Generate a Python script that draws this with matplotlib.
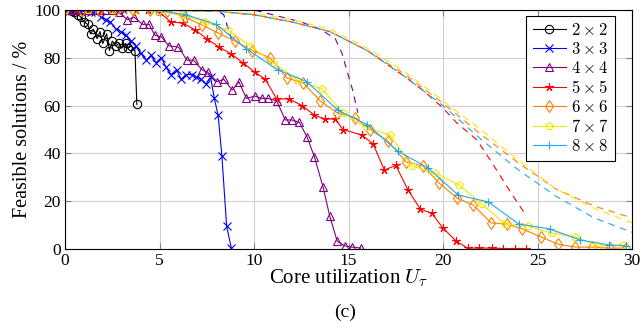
import numpy as np
import matplotlib.pyplot as plt

plt.rcParams['font.family'] = ['Liberation Serif', 'DejaVu Serif']
plt.rcParams['mathtext.fontset'] = 'cm'

# 2x2
x2 = [0, 0.17, 0.35, 0.5, 0.68, 0.85, 1.0, 1.2, 1.35, 1.5, 1.7, 1.85, 2.0, 2.2, 2.35, 2.5, 2.7, 2.85, 3.0, 3.2, 3.35, 3.5, 3.7, 3.8]
y2 = [100, 100, 99.5, 99, 98, 97, 95, 94, 90, 92, 88, 91, 86, 90, 83, 87, 85, 86, 84, 86, 84, 85, 83, 60.5]
# 3x3
x3 = [0, 0.27, 0.55, 0.8, 1.1, 1.35, 1.6, 1.9, 2.15, 2.4, 2.7, 2.95, 3.2, 3.5, 3.75, 4.0, 4.3, 4.55, 4.8, 5.1,
      5.35, 5.6, 5.9, 6.15, 6.4, 6.7, 6.95, 7.2, 7.45, 7.7, 7.9, 8.1, 8.3, 8.55, 8.8]
y3 = [100, 100, 100, 99.5, 99.5, 99, 99, 97, 96, 95, 92, 91, 89.5, 87, 85, 82, 79, 81, 78, 80,
      76, 73, 75, 71, 73, 73, 72, 71, 69, 72, 63, 56, 39, 9.6, 0.4]
# 4x4
x4 = [0, 0.4, 0.85, 1.25, 1.7, 2.1, 2.5, 2.85, 3.3, 3.65, 4.1, 4.45, 4.75, 5.1, 5.5, 6.0, 6.45, 6.8, 7.25, 7.55,
      8.05, 8.4, 8.85, 9.2, 9.6, 10.05, 10.4, 10.75, 11.2, 11.65, 12.0, 12.4, 12.8, 13.2, 13.65, 14.0, 14.4, 14.8, 15.2, 15.65]
y4 = [100, 100, 100, 100, 100, 100, 100, 99, 96, 97, 94, 94, 89.5, 88.7, 85, 84.5, 79, 79, 75, 74,
      70, 71, 66.5, 70, 63, 64, 63, 63, 62, 54, 54, 53, 47, 38.5, 26, 14, 3.3, 1.3, 0.8, 0.4]
# 5x5
x5 = [0, 0.6, 1.25, 1.9, 2.5, 3.1, 3.75, 4.4, 5.0, 5.6, 6.25, 6.9, 7.5, 8.15, 8.8, 9.4, 10.05, 10.6, 11.2, 11.85,
      12.55, 13.2, 13.75, 14.3, 14.7, 15.7, 16.3, 16.9, 17.5, 18.15, 18.8, 19.4, 20.0, 20.7, 21.3, 21.9, 22.6, 23.2, 23.8, 24.4]
y5 = [100, 100, 100, 100, 100, 100, 100, 100, 99, 95, 94.5, 91.6, 88, 84.5, 81.6, 78, 74, 71, 62.8, 62.8,
      60, 56, 54.4, 54.4, 50, 47.7, 44, 33, 35, 24.7, 16.7, 15, 8.8, 3.3, 0.4, 0.4, 0.4, 0.2, 0.2, 0.2]
# 6x6
x6 = [0, 0.9, 1.8, 2.7, 3.6, 4.5, 5.4, 6.35, 7.25, 8.1, 9.0, 9.9, 10.85, 11.75, 12.6, 13.5, 14.4, 15.35, 16.15, 17.1,
      18.05, 18.95, 19.8, 20.75, 21.6, 22.55, 23.4, 24.2, 25.2, 26.1, 27.0, 27.9, 28.85, 29.7]
y6 = [100, 100, 100, 100, 100, 100, 99.5, 97, 93.7, 90.4, 87, 83, 80, 71.5, 69.5, 62, 57, 55, 50, 45,
      36.4, 34.7, 27.6, 21.3, 18.4, 10.9, 10.5, 8.4, 5, 2, 0.8, 0.8, 0.4, 0.4]
# 7x7
x7 = [0, 1.2, 2.5, 3.7, 4.9, 6.2, 7.4, 8.6, 9.8, 11.0, 12.3, 13.6, 14.7, 15.9, 17.2, 18.35, 19.6, 20.85, 22.05, 23.3,
      24.5, 25.75, 27.0, 28.2, 29.5]
y7 = [100, 100, 100, 100, 99.5, 98, 95, 91.6, 85, 78, 70.7, 67, 57, 51, 47.7, 34.7, 31.8, 26.8, 18.8, 10.5,
      9.6, 6.7, 5, 1.3, 1.7]
# 8x8
x8 = [0, 1.6, 3.2, 4.8, 6.4, 8.0, 9.6, 11.25, 12.8, 14.45, 16.0, 17.6, 19.2, 20.8, 22.4, 24.0, 25.65, 27.25, 28.8, 29.7]
y8 = [100, 100, 100, 100, 98, 94, 83.7, 75, 70, 58, 52, 41, 34, 22.6, 19.7, 10.5, 8.4, 3.8, 1.7, 1.3]

# upper bounds (dashed)
ux2 = [0, 3.8]
uy2 = [100, 100]
ux3 = [0, 8.0, 8.4, 8.8]
uy3 = [100, 100, 98, 88]
ux4 = [0, 10, 11.5, 12.5, 13.5, 14.3, 14.65, 14.9, 15.2, 15.5]
uy4 = [100, 100, 97, 95, 92, 88, 82, 75, 67, 57]
ux5 = [0, 4, 8, 10, 12, 14, 16, 18, 19, 20, 20.7, 21.8, 22.6, 23.5, 24.4]
uy5 = [100, 100, 99.5, 98, 95, 91, 83, 72, 66, 59, 53, 45.6, 36, 24.7, 14]
ux678 = [0, 4, 8, 10, 12, 14, 16, 18, 20, 22, 24, 26, 28, 30]
uy6 = [100, 100, 99.5, 98, 95, 91, 83, 73, 61, 48, 36, 25, 18, 13]
uy7 = [100, 100, 99.5, 98.5, 96, 92, 84, 74, 62, 50, 37, 25, 17, 11]
uy8 = [100, 100, 99.5, 98, 95, 91, 83, 72, 60, 46, 33, 22, 13, 7]

labels = [r'$2\times 2$', r'$3\times 3$', r'$4\times 4$', r'$5\times 5$', r'$6\times 6$', r'$7\times 7$', r'$8\times 8$']
colors = ['black', 'blue', '#800080', 'red', '#ff8000', '#f5e600', '#1eaaf0']
markers = ['o', 'x', '^', (5, 2, 0), 'd', 'p', '+']
xs = [x2, x3, x4, x5, x6, x7, x8]
ys = [y2, y3, y4, y5, y6, y7, y8]
uxs = [ux2, ux3, ux4, ux5, ux678, ux678, ux678]
uys = [uy2, uy3, uy4, uy5, uy6, uy7, uy8]

fig = plt.figure(figsize=(6.4, 3.23), dpi=100)
ax = fig.add_axes([0.1016, 0.229, 0.8859, 0.740])

for i in range(7):
    mfc = 'none' if markers[i] in ('o', '^', 'd', 'p') else colors[i]
    dl, = ax.plot(uxs[i], uys[i], color=colors[i], lw=0.8)
    dl.set_linestyle((i * 2.5, (6, 5)))
    ax.plot(xs[i], ys[i], '-', color=colors[i], lw=0.8, marker=markers[i], ms=6,
            mfc=mfc, mew=0.8, label=labels[i])

ax.set_xlim(0, 30)
ax.set_ylim(0, 100)
ax.set_xticks([0, 5, 10, 15, 20, 25, 30])
ax.set_yticks([0, 20, 40, 60, 80, 100])
ax.grid(True, color='#d0d0d0', lw=0.8)
ax.set_axisbelow(True)
ax.tick_params(direction='in', length=4, color='0.5', labelsize=12.5, top=True, right=True, pad=3)
for s in ax.spines.values():
    s.set_linewidth(0.8)

ax.set_xlabel(r'Core utilization $U_\tau$', fontsize=15, labelpad=-1)
ax.set_ylabel('Feasible solutions / %', fontsize=14.5, labelpad=2)
fig.text(0.539, 0.02, '(c)', fontsize=14, ha='center')

leg = ax.legend(loc='upper right', bbox_to_anchor=(0.970, 0.975), borderaxespad=0,
                fancybox=False, framealpha=1, edgecolor='black', fontsize=12,
                handlelength=2.0, handletextpad=0.3, labelspacing=0.18, borderpad=0.4)
leg.get_frame().set_linewidth(0.8)

fig.savefig('out.png', dpi=100)
